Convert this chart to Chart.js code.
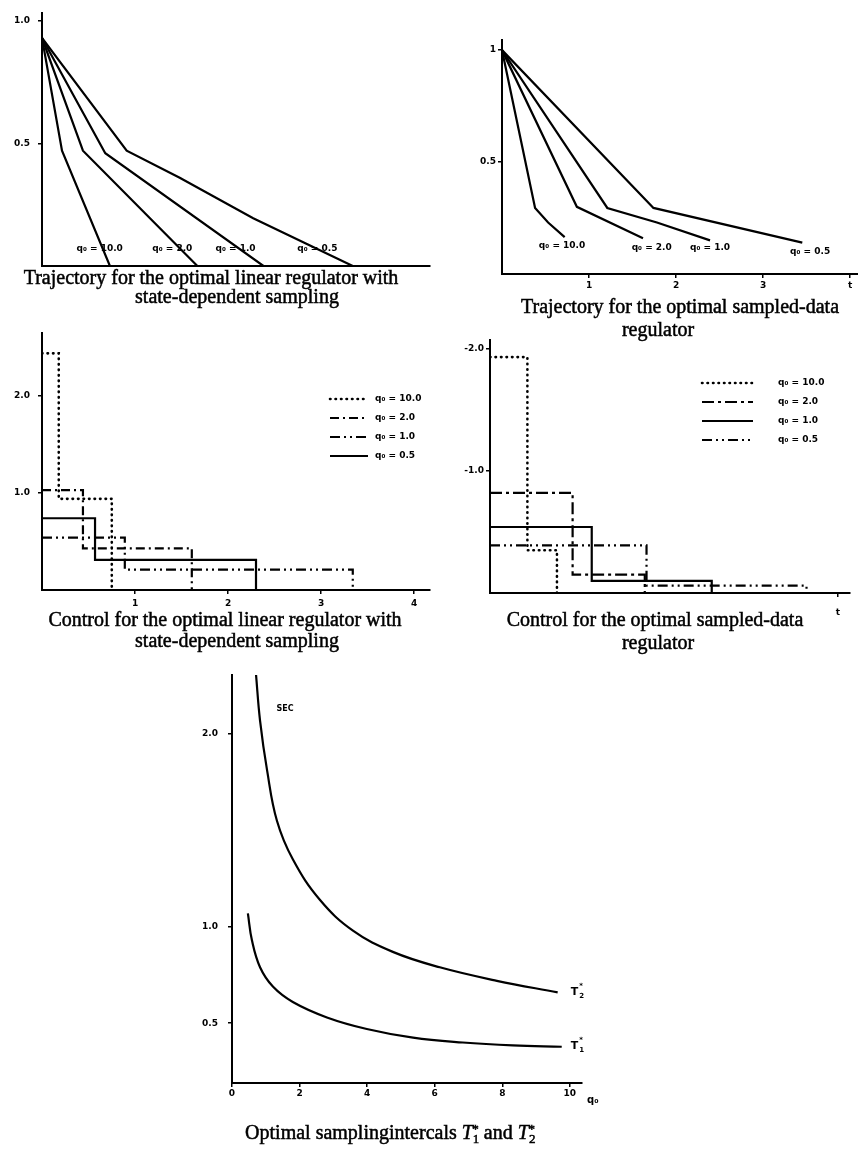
<!DOCTYPE html>
<html>
<head>
<meta charset="utf-8">
<script src="https://cdn.jsdelivr.net/npm/chart.js@4.4.1/dist/chart.umd.min.js"></script>
<style>
html,body{margin:0;padding:0;background:#fff;}
body{width:858px;height:1153px;position:relative;overflow:hidden;}
canvas{position:absolute;left:0;top:0;}
.cap{position:absolute;width:600px;text-align:center;font-family:"Liberation Serif","Times New Roman",serif;font-size:20px;line-height:20px;color:#000;-webkit-text-stroke:0.5px #000;white-space:nowrap;}
.cap sub{font-size:13px;vertical-align:-4px;}
.cap sup{font-size:13px;vertical-align:6px;margin-left:-7px;}
</style>
</head>
<body>
<canvas id="c1" width="858" height="1153"></canvas>
<canvas id="c2" width="858" height="1153"></canvas>
<canvas id="c3" width="858" height="1153"></canvas>
<canvas id="c4" width="858" height="1153"></canvas>
<canvas id="c5" width="858" height="1153"></canvas>

<div class="cap" style="left:-89px;top:267px">Trajectory for the optimal linear regulator with</div>
<div class="cap" style="left:-63px;top:286px">state-dependent sampling</div>
<div class="cap" style="left:380px;top:296px">Trajectory for the optimal sampled-data</div>
<div class="cap" style="left:358px;top:319px">regulator</div>
<div class="cap" style="left:-75px;top:609px">Control for the optimal linear regulator with</div>
<div class="cap" style="left:-63px;top:630px">state-dependent sampling</div>
<div class="cap" style="left:355px;top:609px">Control for the optimal sampled-data</div>
<div class="cap" style="left:358px;top:632px">regulator</div>
<div class="cap" style="left:90px;top:1119px">Optimal samplingintercals <i>T</i><sub>1</sub><sup>*</sup> and <i>T</i><sub>2</sub><sup>*</sup></div>

<script>
// ---------- DATA ----------
const qLabels = ['q\u2080 = 10.0', 'q\u2080 = 2.0', 'q\u2080 = 1.0', 'q\u2080 = 0.5'];

// Panel 1: trajectory, optimal linear regulator with state-dependent sampling
const p1T10 = [0, 0.215, 0.73],            p1X10 = [0.93, 0.47, 0];
const p1T2  = [0, 0.44, 1.67],             p1X2  = [0.93, 0.47, 0];
const p1T1  = [0, 0.68, 2.38],             p1X1  = [0.93, 0.46, 0];
const p1T05 = [0, 0.91, 1.48, 2.27, 3.34], p1X05 = [0.93, 0.47, 0.36, 0.195, 0];
const p1YTicks = [0.5, 1.0], p1YLabels = ['0.5', '1.0'];

// Panel 2: trajectory, optimal sampled-data regulator
const p2T10 = [0, 0.38, 0.53, 0.72], p2X10 = [1, 0.295, 0.23, 0.165];
const p2T2  = [0, 0.86, 1.62],       p2X2  = [1, 0.30, 0.16];
const p2T1  = [0, 1.21, 1.78, 2.39], p2X1  = [1, 0.295, 0.23, 0.15];
const p2T05 = [0, 1.74, 3.45],       p2X05 = [1, 0.295, 0.14];
const p2XTicks = [1, 2, 3, 4], p2XLabels = ['1', '2', '3', 't'];
const p2YTicks = [0.5, 1],     p2YLabels = ['0.5', '1'];

// Panel 3: control, linear regulator with state-dependent sampling (switch times / levels)
const p3T10 = [0, 0.18, 0.75], p3U10 = [2.44, 0.94, 0];
const p3T2  = [0, 0.44, 1.61], p3U2  = [1.03, 0.43, 0];
const p3T1  = [0, 0.89, 3.34], p3U1  = [0.54, 0.21, 0];
const p3T05 = [0, 0.57, 2.30], p3U05 = [0.74, 0.31, 0];
const p3XTicks = [1, 2, 3, 4], p3XLabels = ['1', '2', '3', '4'];
const p3YTicks = [1, 2],       p3YLabels = ['1.0', '2.0'];

// Panel 4: control, sampled-data regulator
const p4T10 = [0, 0.43, 0.77], p4U10 = [1.93, 0.35, 0];
const p4T2  = [0, 0.95, 1.78], p4U2  = [0.82, 0.15, 0];
const p4T1  = [0, 1.17, 2.55], p4U1  = [0.54, 0.10, 0];
const p4T05 = [0, 1.80, 3.64], p4U05 = [0.39, 0.06, 0];
const p4XTicks = [4],    p4XLabels = ['t'];
const p4YTicks = [1, 2], p4YLabels = ['-1.0', '-2.0'];

// Panel 5: optimal sampling intervals vs q0
const p5Q2 = [0.71, 0.83, 1.04, 1.33, 1.80, 2.60, 3.58, 4.76, 6.15, 7.84, 9.64];
const p5V2 = [2.31, 2.07, 1.81, 1.55, 1.35, 1.14, 0.98, 0.87, 0.79, 0.72, 0.66];
const p5Q1 = [0.47, 0.59, 0.83, 1.21, 1.80, 2.81, 3.99, 5.36, 6.83, 8.31, 9.76];
const p5V1 = [1.07, 0.93, 0.79, 0.69, 0.61, 0.53, 0.47, 0.425, 0.40, 0.385, 0.378];
const p5XTicks = [0, 2, 4, 6, 8, 10], p5XLabels = ['0', '2', '4', '6', '8', '10'];
const p5YTicks = [0.5, 1.0, 2.0],     p5YLabels = ['0.5', '1.0', '2.0'];

// ---------- RENDERING ----------
const W = 858, H = 1153;
const pts = (xs, ys) => xs.map((x, i) => ({ x: x, y: ys[i] }));
const tickFont = { family: 'DejaVu Sans', size: 9, weight: 'bold' };

const DOT = [0.5, 5], DASHDOT = [9, 4, 2, 4], DASHDOT2 = [10, 4, 2, 4, 2, 4], LONGDASHDOT = [12, 4, 3, 4];

function ds(label, data, dash, extra) {
  const o = {
    label: label, data: data, borderColor: '#000', borderWidth: 2.2,
    pointRadius: 0, fill: false, tension: 0,
    borderDash: dash || [], borderCapStyle: (dash === DOT) ? 'round' : 'butt'
  };
  if (dash === DOT) o.borderWidth = 2.6;
  return Object.assign(o, extra || {});
}

const notesPlugin = {
  id: 'notes',
  afterDatasetsDraw(chart, args, opts) {
    const ctx = chart.ctx, xs = chart.scales.x, ys = chart.scales.y;
    ctx.save();
    ctx.fillStyle = '#000';
    ctx.strokeStyle = '#000';
    ctx.textBaseline = 'middle';
    (opts.notes || []).forEach(n => {
      const px = xs.getPixelForValue(n.x), py = ys.getPixelForValue(n.y);
      if (n.kind === 'T') {
        ctx.font = 'bold 11px "DejaVu Sans"';
        ctx.textAlign = 'left';
        const w = ctx.measureText('T').width;
        ctx.fillText('T', px - w / 2 - 2, py);
        ctx.font = 'bold 7px "DejaVu Sans"';
        ctx.fillText('*', px + w / 2 - 1, py - 6);
        ctx.fillText(n.sub, px + w / 2 - 1, py + 4);
      } else {
        ctx.font = n.font || 'bold 9px "DejaVu Sans"';
        ctx.textAlign = 'center';
        ctx.fillText(n.text, px, py);
      }
    });
    const lg = opts.legend;
    if (lg) {
      chart.data.datasets.forEach((d, i) => {
        const y = lg.y + i * lg.dy;
        ctx.setLineDash(d.borderDash || []);
        ctx.lineCap = d.borderCapStyle || 'butt';
        ctx.lineWidth = d.borderWidth;
        ctx.beginPath();
        ctx.moveTo(lg.x, y);
        ctx.lineTo(lg.x + lg.len, y);
        ctx.stroke();
        ctx.setLineDash([]);
        ctx.font = 'bold 9px "DejaVu Sans"';
        ctx.textAlign = 'left';
        ctx.fillText(d.label, lg.tx, y);
      });
    }
    ctx.restore();
  }
};

function panel(id, area, sx, sy, datasets, notes, legend) {
  const axis = (s, isX) => ({
    type: 'linear', min: s.min, max: s.max,
    afterFit: sc => { if (isX) sc.height = H - area.b; else sc.width = area.l; },
    afterBuildTicks: sc => { sc.ticks = s.ticks.map(v => ({ value: v })); },
    ticks: {
      display: s.ticks.length > 0, color: '#000', font: tickFont, padding: s.pad,
      autoSkip: false, maxRotation: 0, callback: (v, i) => s.labels[i]
    },
    grid: { display: true, drawOnChartArea: false, drawTicks: true, tickLength: 4, color: '#000', lineWidth: 1.5 },
    border: { display: true, color: '#000', width: 2 }
  });
  return new Chart(document.getElementById(id), {
    type: 'line',
    data: { datasets: datasets },
    options: {
      responsive: false, animation: false, devicePixelRatio: 1,
      layout: { autoPadding: false, padding: { left: 0, top: area.t, right: W - area.r, bottom: 0 } },
      plugins: { legend: { display: false }, tooltip: { enabled: false }, notes: { notes: notes, legend: legend } },
      scales: { x: axis(sx, true), y: axis(sy, false) }
    },
    plugins: [notesPlugin]
  });
}

const STEP = { stepped: 'before' };

// Panel 1
panel('c1', { l: 42, t: 8, r: 430, b: 266 },
  { min: 0, max: 4.17, ticks: [], labels: [], pad: 2 },
  { min: 0, max: 1.03, ticks: p1YTicks, labels: p1YLabels, pad: 8 },
  [ ds(qLabels[0], pts(p1T10, p1X10)), ds(qLabels[1], pts(p1T2, p1X2)),
    ds(qLabels[2], pts(p1T1, p1X1)), ds(qLabels[3], pts(p1T05, p1X05)) ],
  [ { x: 0.62, y: 0.072, text: qLabels[0] }, { x: 1.40, y: 0.072, text: qLabels[1] },
    { x: 2.08, y: 0.072, text: qLabels[2] }, { x: 2.96, y: 0.072, text: qLabels[3] } ]);

// Panel 2
panel('c2', { l: 502, t: 40, r: 858, b: 274 },
  { min: 0, max: 4.09, ticks: p2XTicks, labels: p2XLabels, pad: 2 },
  { min: 0, max: 1.045, ticks: p2YTicks, labels: p2YLabels, pad: 2 },
  [ ds(qLabels[0], pts(p2T10, p2X10)), ds(qLabels[1], pts(p2T2, p2X2)),
    ds(qLabels[2], pts(p2T1, p2X1)), ds(qLabels[3], pts(p2T05, p2X05)) ],
  [ { x: 0.69, y: 0.125, text: qLabels[0] }, { x: 1.72, y: 0.116, text: qLabels[1] },
    { x: 2.39, y: 0.116, text: qLabels[2] }, { x: 3.54, y: 0.098, text: qLabels[3] } ]);

// Panel 3
panel('c3', { l: 42, t: 333, r: 430, b: 590 },
  { min: 0, max: 4.17, ticks: p3XTicks, labels: p3XLabels, pad: 4 },
  { min: 0, max: 2.65, ticks: p3YTicks, labels: p3YLabels, pad: 8 },
  [ ds(qLabels[0], pts(p3T10, p3U10), DOT, STEP),
    ds(qLabels[1], pts(p3T2, p3U2), DASHDOT, STEP),
    ds(qLabels[2], pts(p3T1, p3U1), DASHDOT2, STEP),
    ds(qLabels[3], pts(p3T05, p3U05), [], STEP) ],
  [], { x: 330, len: 38, y: 399, dy: 19, tx: 375 });

// Panel 4
panel('c4', { l: 490, t: 340, r: 850, b: 593 },
  { min: 0, max: 4.14, ticks: p4XTicks, labels: p4XLabels, pad: 10 },
  { min: 0, max: 2.07, ticks: p4YTicks, labels: p4YLabels, pad: 2 },
  [ ds(qLabels[0], pts(p4T10, p4U10), DOT, STEP),
    ds(qLabels[1], pts(p4T2, p4U2), LONGDASHDOT, STEP),
    ds(qLabels[2], pts(p4T1, p4U1), [], STEP),
    ds(qLabels[3], pts(p4T05, p4U05), DASHDOT2, STEP) ],
  [], { x: 702, len: 51, y: 383, dy: 19, tx: 778 });

// Panel 5
panel('c5', { l: 232, t: 675, r: 582, b: 1083 },
  { min: 0, max: 10.36, ticks: p5XTicks, labels: p5XLabels, pad: 1 },
  { min: 0.19, max: 2.306, ticks: p5YTicks, labels: p5YLabels, pad: 10 },
  [ ds('T2*', pts(p5Q2, p5V2), [], { tension: 0.4 }),
    ds('T1*', pts(p5Q1, p5V1), [], { tension: 0.4 }) ],
  [ { x: 10.2, y: 0.66, kind: 'T', sub: '2' }, { x: 10.2, y: 0.38, kind: 'T', sub: '1' },
    { x: 1.57, y: 2.13, text: 'SEC', font: 'bold 8px "DejaVu Sans"' },
    { x: 10.68, y: 0.10, text: 'q\u2080', font: 'bold 10px "DejaVu Sans"' } ]);
</script>
</body>
</html>
